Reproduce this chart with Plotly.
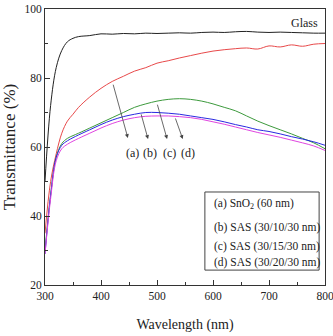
import plotly.graph_objects as go

wavelength = [300, 310, 320, 330, 340, 350, 360, 380, 400, 420, 440, 460, 480, 500, 520, 540, 560,
              580, 600, 620, 640, 660, 680, 700, 720, 740, 760, 780, 800]
glass = [50, 72, 83, 88, 90.5, 91.5, 92.0, 92.3, 92.8, 92.7, 92.9, 92.8, 93.0, 92.9, 93.0, 93.1, 93.0,
         93.2, 93.3, 93.2, 93.4, 93.5, 93.3, 93.2, 93.3, 93.2, 93.1, 93.0, 93.0]
sno2 = [35, 50, 58, 64, 67.5, 69.5, 71.5, 74.5, 77, 79, 80.5, 82, 83, 84.3, 85, 85.8, 86.5,
        87.2, 87.8, 88.2, 88.5, 88.7, 88.4, 89.3, 89.0, 89.6, 89.2, 89.8, 90.0]
sas10 = [29, 46, 57, 60.5, 61.8, 62.7, 63.5, 65, 66.5, 67.8, 68.8, 69.5, 70, 70, 69.8, 69.5, 69,
         68.5, 68, 67.3, 66.5, 65.8, 65, 64.5, 63.8, 63, 62.3, 61.5, 60.5]
sas15 = [30, 46, 57, 61, 62.5, 63.3, 64, 65.5, 67, 68.5, 70, 71.5, 72.5, 73.3, 73.8, 74, 73.8,
         73.3, 72.5, 71.5, 70.5, 69, 67.5, 66.2, 65, 63.8, 62.5, 61.2, 59.5]
sas20 = [29, 45, 56, 59.5, 60.8, 61.7, 62.5, 64, 65.5, 66.8, 67.8, 68.5, 68.9, 69, 69, 68.8, 68.5,
         68, 67.3, 66.6, 65.8, 65, 64.2, 63.5, 62.8, 62, 61.2, 60.3, 59]

series_names = ["Glass", "(a) SnO2 (60 nm)", "(b) SAS (30/10/30 nm)", "(c) SAS (30/15/30 nm)", "(d) SAS (30/20/30 nm)"]
legend_labels = ["(a) SnO<sub>2</sub> (60 nm)", "(b) SAS (30/10/30 nm)", "(c) SAS (30/15/30 nm)", "(d) SAS (30/20/30 nm)"]
series_values = [glass, sno2, sas10, sas15, sas20]
colors = ["#222222", "#e8494a", "#2a2ae0", "#3d9a3d", "#e045e0"]

arrow_labels = ["(a)", "(b)", "(c)", "(d)"]
label_x = [457, 487, 523, 555]
label_y = 58.3
arrow_start = [(421, 78.5), (471, 69.9), (500, 72.7), (532, 68.7)]
arrow_end = [(448, 62.6), (484, 62.3), (518, 62.3), (546, 62.3)]

FONT = "Liberation Serif"

fig = go.Figure()
order = [0, 1, 3, 2, 4]
for i in order:
    fig.add_trace(go.Scatter(x=wavelength, y=series_values[i], mode="lines", name=series_names[i],
                             line=dict(color=colors[i], width=1), line_shape="spline", showlegend=False))

for lab, lx, s, e in zip(arrow_labels, label_x, arrow_start, arrow_end):
    fig.add_annotation(x=e[0], y=e[1], ax=s[0], ay=s[1], xref="x", yref="y", axref="x", ayref="y",
                       showarrow=True, arrowhead=2, arrowsize=1, arrowwidth=0.8, arrowcolor="#444", text="")
    fig.add_annotation(x=lx, y=label_y, text=lab, showarrow=False,
                       font=dict(family=FONT, size=12, color="#222"))

fig.add_annotation(x=764, y=96, text="Glass", showarrow=False, font=dict(family=FONT, size=12, color="#222"))

fig.add_shape(type="rect", xref="paper", yref="paper", x0=0.571, x1=0.979, y0=0.054, y1=0.337,
              line=dict(color="#444", width=1), fillcolor="white")
leg_y = [0.293, 0.207, 0.141, 0.08]
for txt, yy in zip(legend_labels, leg_y):
    fig.add_annotation(x=0.596, y=yy, xref="paper", yref="paper", text=txt, showarrow=False,
                       xanchor="left", yanchor="middle", font=dict(family=FONT, size=11.5, color="#222"))

fig.update_layout(
    width=333, height=336,
    margin=dict(l=45, r=8, t=9, b=51),
    paper_bgcolor="white", plot_bgcolor="white",
    font=dict(family=FONT, color="#222"),
)
fig.update_xaxes(range=[300, 800], dtick=100, ticks="inside", ticklen=5, tickcolor="#333",
                 minor=dict(dtick=50, ticks="inside", ticklen=3, tickcolor="#333"),
                 showline=True, linecolor="#333", linewidth=1, mirror=True, showgrid=False, zeroline=False,
                 tickfont=dict(family=FONT, size=11.5), automargin=False, ticklabeloverflow="allow",
                 title=dict(text="Wavelength (nm)", font=dict(family=FONT, size=14), standoff=18))
fig.update_yaxes(range=[20, 100], dtick=20, ticks="inside", ticklen=5, tickcolor="#333",
                 minor=dict(dtick=10, ticks="inside", ticklen=3, tickcolor="#333"),
                 showline=True, linecolor="#333", linewidth=1, mirror=True, showgrid=False, zeroline=False,
                 tickfont=dict(family=FONT, size=11.5), automargin=False,
                 title=dict(text="Transmittance (%)", font=dict(family=FONT, size=17), standoff=8))

fig.write_html("out.html")
